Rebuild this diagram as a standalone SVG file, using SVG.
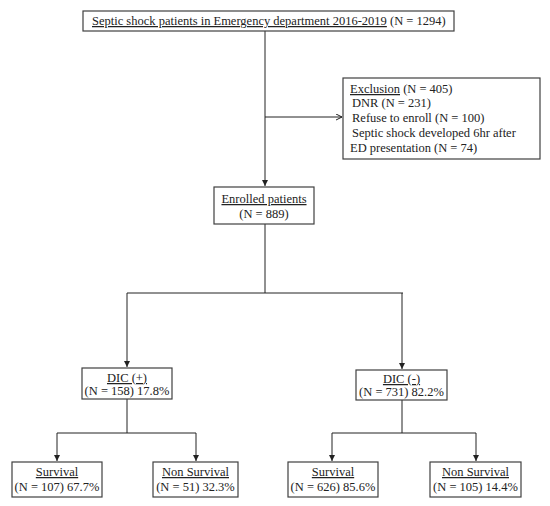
<svg xmlns="http://www.w3.org/2000/svg" width="550" height="506" viewBox="0 0 550 506">
<style>
.box{fill:#fff;stroke:#404040;stroke-width:1.2}
.t{font-family:"Liberation Serif","Times New Roman",serif;font-size:12.5px;fill:#222}
.c{text-anchor:middle}
.u{text-decoration:underline}
.ln{fill:none;stroke:#222;stroke-width:1}
</style>
<defs>
<marker id="ah" markerWidth="8" markerHeight="8" refX="6" refY="3" orient="auto" markerUnits="userSpaceOnUse">
<path d="M0,0 L6,3 L0,6 Z" fill="#222"/>
</marker>
<marker id="oh" markerWidth="8" markerHeight="8" refX="6" refY="3" orient="auto" markerUnits="userSpaceOnUse">
<path d="M0,0 L6,3 L0,6" fill="none" stroke="#222" stroke-width="1"/>
</marker>
</defs>
<rect width="550" height="506" fill="#fff"/>
<g id="connectors">
<path class="ln" d="M265,31 V186" marker-end="url(#ah)"/>
<path class="ln" d="M265,117 H342" marker-end="url(#oh)"/>
<path class="ln" d="M265,224 V293 M127,293 H403"/>
<path class="ln" d="M127,293 V367" marker-end="url(#ah)"/>
<path class="ln" d="M402,293 V369" marker-end="url(#ah)"/>
<path class="ln" d="M127,399 V433 M57,433 H196"/>
<path class="ln" d="M57,433 V461" marker-end="url(#ah)"/>
<path class="ln" d="M196,433 V461" marker-end="url(#ah)"/>
<path class="ln" d="M402,400 V433 M332,433 H476"/>
<path class="ln" d="M332,433 V461" marker-end="url(#ah)"/>
<path class="ln" d="M476,433 V461" marker-end="url(#ah)"/>
</g>
<g id="top">
<rect class="box" x="83" y="11" width="371" height="20"/>
<text class="t" x="92" y="25"><tspan class="u">Septic shock patients in Emergency department 2016-2019</tspan> (N = 1294)</text>
</g>
<g id="exclusion">
<rect class="box" x="343" y="78" width="197" height="81"/>
<text class="t" x="350" y="93"><tspan class="u">Exclusion</tspan>  (N = 405)</text>
<text class="t" x="352" y="107">DNR (N = 231)</text>
<text class="t" x="352" y="122">Refuse to enroll (N = 100)</text>
<text class="t" x="352" y="137">Septic shock developed  6hr after</text>
<text class="t" x="350" y="152">ED presentation (N = 74)</text>
</g>
<g id="enrolled">
<rect class="box" x="214" y="187" width="100" height="37"/>
<text class="t c" x="264" y="203"><tspan class="u">Enrolled patients</tspan></text>
<text class="t c" x="264" y="218">(N = 889)</text>
</g>
<g id="dic-pos">
<rect class="box" x="82" y="368" width="90" height="31"/>
<text class="t c" x="127" y="382"><tspan class="u">DIC (+)</tspan></text>
<text class="t c" x="127" y="395">(N = 158) 17.8%</text>
</g>
<g id="dic-neg">
<rect class="box" x="356" y="370" width="91" height="30"/>
<text class="t c" x="401.5" y="383"><tspan class="u">DIC (-)</tspan></text>
<text class="t c" x="401.5" y="396">(N = 731) 82.2%</text>
</g>
<g id="surv-pos">
<rect class="box" x="12" y="462" width="90" height="35"/>
<text class="t c" x="57" y="476"><tspan class="u">Survival </tspan></text>
<text class="t c" x="57" y="491">(N = 107) 67.7%</text>
</g>
<g id="nonsurv-pos">
<rect class="box" x="153" y="462" width="85" height="35"/>
<text class="t c" x="195.5" y="476"><tspan class="u">Non Survival </tspan></text>
<text class="t c" x="195.5" y="491">(N = 51) 32.3%</text>
</g>
<g id="surv-neg">
<rect class="box" x="288" y="462" width="90" height="35"/>
<text class="t c" x="333" y="476"><tspan class="u">Survival </tspan></text>
<text class="t c" x="333" y="491">(N = 626) 85.6%</text>
</g>
<g id="nonsurv-neg">
<rect class="box" x="430" y="462" width="91" height="35"/>
<text class="t c" x="475.5" y="476"><tspan class="u">Non Survival </tspan></text>
<text class="t c" x="475.5" y="491">(N = 105) 14.4%</text>
</g>
</svg>
